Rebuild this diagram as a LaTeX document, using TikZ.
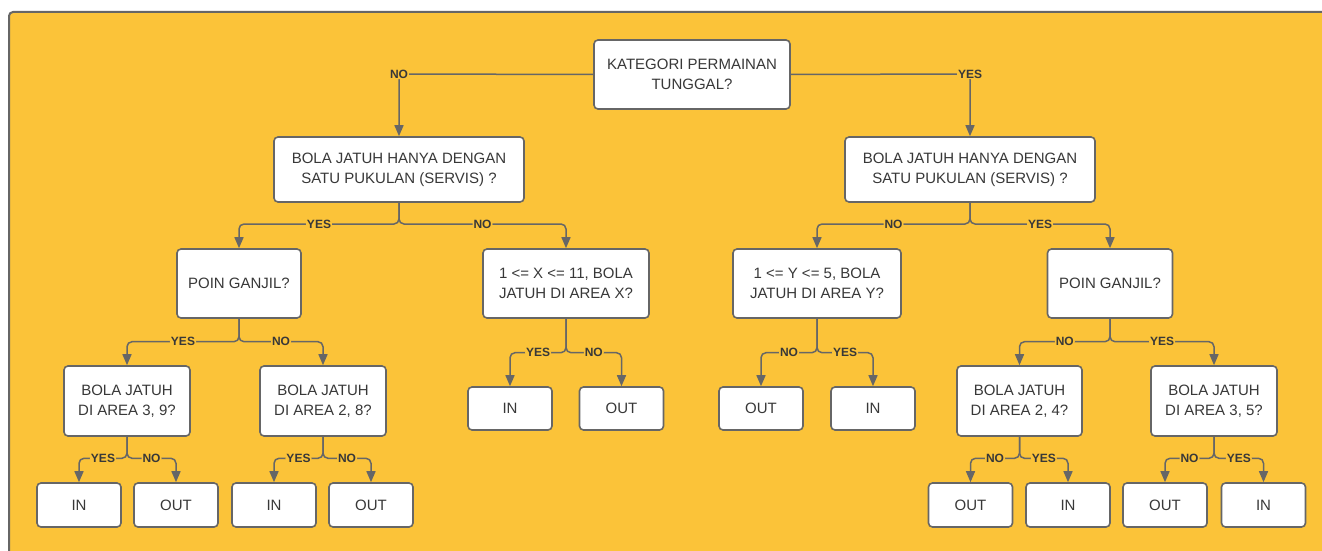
\documentclass[tikz,border=0pt]{standalone}
\usepackage{fontspec}
\setmainfont{Liberation Sans}
\usetikzlibrary{arrows.meta}
\definecolor{bg}{HTML}{FBC339}
\definecolor{edge}{HTML}{666666}
\definecolor{txt}{HTML}{383838}
\tikzset{
  box/.style={draw=edge, line width=1.6pt, fill=white, rounded corners=4pt, align=center,
    text=txt, font=\fontsize{15}{20}\selectfont, inner sep=0pt},
  conn/.style={draw=edge, line width=1.5pt, rounded corners=5pt, -{Triangle[length=11pt,width=9pt]}},
  lab/.style={fill=bg, text=txt, font=\fontsize{12}{12}\selectfont\bfseries, inner sep=1pt},
}
\begin{document}
\begin{tikzpicture}[x=1pt,y=-1pt]
\useasboundingbox (0,0) rectangle (1322,551);
\fill[white] (0,0) rectangle (1322,551);
\draw[edge, line width=2pt, fill=bg, rounded corners=4pt] (9,12) rectangle (1345,575);

% level 1
\node[box, minimum width=196pt, minimum height=69pt] (top) at (692,74.5) {KATEGORI PERMAINAN\\TUNGGAL?};
% level 2
\node[box, minimum width=250pt, minimum height=65pt] (La) at (399,169.5) {BOLA JATUH HANYA DENGAN\\SATU PUKULAN (SERVIS) ?};
\node[box, minimum width=250pt, minimum height=65pt] (Ra) at (970,169.5) {BOLA JATUH HANYA DENGAN\\SATU PUKULAN (SERVIS) ?};
% level 3
\node[box, minimum width=124pt, minimum height=69pt] (Lb) at (239,283.5) {POIN GANJIL?};
\node[box, minimum width=166pt, minimum height=69pt] (Lc) at (566,283.5) {1 <= X <= 11, BOLA\\JATUH DI AREA X?};
\node[box, minimum width=168pt, minimum height=69pt] (Rc) at (817,283.5) {1 <= Y <= 5, BOLA\\JATUH DI AREA Y?};
\node[box, minimum width=125pt, minimum height=69pt] (Rb) at (1110,283.5) {POIN GANJIL?};
% level 4
\node[box, minimum width=126pt, minimum height=70pt] (L39) at (127,401) {BOLA JATUH\\DI AREA 3, 9?};
\node[box, minimum width=126pt, minimum height=70pt] (L28) at (323,401) {BOLA JATUH\\DI AREA 2, 8?};
\node[box, minimum width=125pt, minimum height=70pt] (R24) at (1019.5,401) {BOLA JATUH\\DI AREA 2, 4?};
\node[box, minimum width=126pt, minimum height=70pt] (R35) at (1214,401) {BOLA JATUH\\DI AREA 3, 5?};
% middle leaves
\node[box, minimum width=84pt, minimum height=43pt] (XIN) at (510,408.5) {IN};
\node[box, minimum width=84pt, minimum height=43pt] (XOUT) at (621.5,408.5) {OUT};
\node[box, minimum width=84pt, minimum height=43pt] (YOUT) at (761,408.5) {OUT};
\node[box, minimum width=84pt, minimum height=43pt] (YIN) at (873,408.5) {IN};
% bottom leaves
\node[box, minimum width=84pt, minimum height=44pt] (a1) at (79,505) {IN};
\node[box, minimum width=84pt, minimum height=44pt] (a2) at (176,505) {OUT};
\node[box, minimum width=84pt, minimum height=44pt] (b1) at (274,505) {IN};
\node[box, minimum width=84pt, minimum height=44pt] (b2) at (371,505) {OUT};
\node[box, minimum width=84pt, minimum height=44pt] (c1) at (970.5,505) {OUT};
\node[box, minimum width=84pt, minimum height=44pt] (c2) at (1068,505) {IN};
\node[box, minimum width=84pt, minimum height=44pt] (d1) at (1165,505) {OUT};
\node[box, minimum width=84pt, minimum height=44pt] (d2) at (1263.5,505) {IN};

% connectors level 1
\draw[conn] (top.west) -- (399,74) node[lab]{NO} -- (La.north);
\draw[conn] (top.east) -- (970,74) node[lab]{YES} -- (Ra.north);
% level 2
\draw[conn] (La.south) -- (399,224) -- node[lab]{YES} (239,224) -- (Lb.north);
\draw[conn] (La.south) -- (399,224) -- node[lab]{NO} (566,224) -- (Lc.north);
\draw[conn] (Ra.south) -- (970,224) -- node[lab]{NO} (817,224) -- (Rc.north);
\draw[conn] (Ra.south) -- (970,224) -- node[lab]{YES} (1110,224) -- (Rb.north);
% level 3
\draw[conn] (Lb.south) -- (239,341.7) -- node[lab]{YES} (127,341.7) -- (L39.north);
\draw[conn] (Lb.south) -- (239,341.7) -- node[lab]{NO} (323,341.7) -- (L28.north);
\draw[conn] (Lc.south) -- (566,352.7) -- node[lab]{YES} (510,352.7) -- (XIN.north);
\draw[conn] (Lc.south) -- (566,352.7) -- node[lab]{NO} (621.5,352.7) -- (XOUT.north);
\draw[conn] (Rc.south) -- (817,352.7) -- node[lab]{NO} (761,352.7) -- (YOUT.north);
\draw[conn] (Rc.south) -- (817,352.7) -- node[lab]{YES} (873,352.7) -- (YIN.north);
\draw[conn] (Rb.south) -- (1110,341.7) -- node[lab]{NO} (1019.5,341.7) -- (R24.north);
\draw[conn] (Rb.south) -- (1110,341.7) -- node[lab]{YES} (1214,341.7) -- (R35.north);
% level 4
\draw[conn] (L39.south) -- (127,458.3) -- node[lab]{YES} (79,458.3) -- (a1.north);
\draw[conn] (L39.south) -- (127,458.3) -- node[lab]{NO} (176,458.3) -- (a2.north);
\draw[conn] (L28.south) -- (323,458.3) -- node[lab]{YES} (274,458.3) -- (b1.north);
\draw[conn] (L28.south) -- (323,458.3) -- node[lab]{NO} (371,458.3) -- (b2.north);
\draw[conn] (R24.south) -- (1019.5,458.3) -- node[lab]{NO} (970.5,458.3) -- (c1.north);
\draw[conn] (R24.south) -- (1019.5,458.3) -- node[lab]{YES} (1068,458.3) -- (c2.north);
\draw[conn] (R35.south) -- (1214,458.3) -- node[lab]{NO} (1165,458.3) -- (d1.north);
\draw[conn] (R35.south) -- (1214,458.3) -- node[lab]{YES} (1263.5,458.3) -- (d2.north);
\end{tikzpicture}
\end{document}
